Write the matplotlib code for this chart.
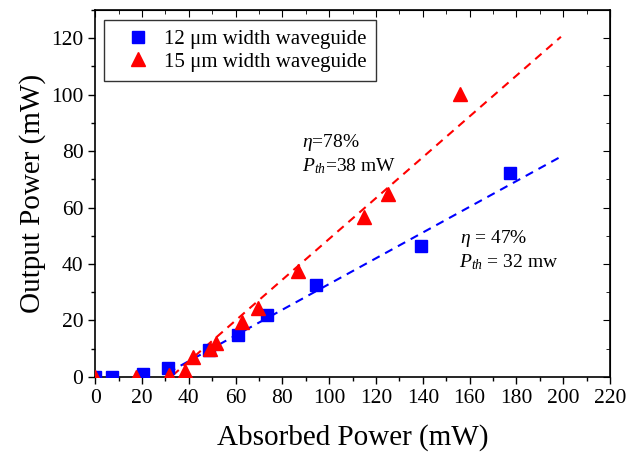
import matplotlib
matplotlib.use("Agg")
import matplotlib.pyplot as plt
from matplotlib.ticker import MultipleLocator

plt.rcParams["font.family"] = ["Liberation Serif", "DejaVu Serif"]
plt.rcParams["mathtext.fontset"] = "custom"
plt.rcParams["mathtext.rm"] = "Liberation Serif"
plt.rcParams["mathtext.it"] = "Liberation Serif:italic"

# measured data, 12 um waveguide (blue squares)
w12_x = [0, 7, 20.5, 31, 48.6, 61, 73.3, 94.3, 139, 177.4]
w12_y = [0, 0, 1, 3, 9.5, 15, 22, 32.4, 46.2, 72.3]
# measured data, 15 um waveguide (red triangles)
w15_x = [0, 17.5, 31.6, 38.4, 41.8, 49, 51.6, 62.7, 69.5, 86.6, 114.7, 125, 156]
w15_y = [0, 0, 0.8, 2, 7, 10, 12, 19.5, 24.5, 37.4, 56.8, 64.9, 100.2]

# linear fits (end points)
fit12_x = [31, 200]
fit12_y = [1.5, 78.5]
fit15_x = [33, 199]
fit15_y = [0.5, 120.5]

fig = plt.figure(figsize=(6.27, 4.53), dpi=100)
ax = fig.add_axes([0.152, 0.168, 0.821, 0.81])

ax.plot(fit12_x, fit12_y, color="#0000ff", lw=1.5, linestyle=(0, (4, 3)), zorder=2)
ax.plot(fit15_x, fit15_y, color="#ff0000", lw=1.5, linestyle=(0, (4, 3)), zorder=2)
ax.plot(w12_x, w12_y, "s", color="#0000ff", ms=8.5, mec="#0000ff", lw=0,
        label="12 \u03bcm width waveguide", zorder=3)
ax.plot(w15_x, w15_y, "^", color="#ff0000", ms=10, mec="#ff0000", lw=0,
        label="15 \u03bcm width waveguide", zorder=3)

ax.set_xlim(0, 220)
ax.set_ylim(0, 130)
ax.xaxis.set_major_locator(MultipleLocator(20))
ax.xaxis.set_minor_locator(MultipleLocator(10))
ax.yaxis.set_major_locator(MultipleLocator(20))
ax.yaxis.set_minor_locator(MultipleLocator(10))
ax.tick_params(which="major", direction="out", length=5, width=1, labelsize=15.5)
ax.tick_params(which="minor", direction="out", length=3, width=1)

# mirrored ticks on top and right, pointing in
top = ax.secondary_xaxis("top")
top.xaxis.set_major_locator(MultipleLocator(20))
top.xaxis.set_minor_locator(MultipleLocator(10))
top.tick_params(which="both", direction="in", labeltop=False)
top.tick_params(which="major", length=5)
top.tick_params(which="minor", length=3)
right = ax.secondary_yaxis("right")
right.yaxis.set_major_locator(MultipleLocator(20))
right.yaxis.set_minor_locator(MultipleLocator(10))
right.tick_params(which="both", direction="in", labelright=False)
right.tick_params(which="major", length=5)
right.tick_params(which="minor", length=3)

for sp in ax.spines.values():
    sp.set_linewidth(1.2)

ax.set_xlabel("Absorbed Power (mW)", fontsize=21, labelpad=12)
ax.set_ylabel("Output Power (mW)", fontsize=21, labelpad=4)

ax.text(88.5, 81.4, r"$\it{\eta}$=78%", fontsize=14)
ax.text(88.2, 72.8, r"$P_{th}$=38 mW", fontsize=14)
ax.text(156, 47.5, r"$\it{\eta}$ = 47%", fontsize=14)
ax.text(155.3, 38.9, r"$P_{th}$ = 32 mw", fontsize=14)

leg = ax.legend(loc="upper left", bbox_to_anchor=(0.017, 0.973), fontsize=15,
                frameon=True, fancybox=False, borderaxespad=0, handletextpad=0.05,
                labelspacing=0.15, borderpad=0.45, handlelength=2.4)
leg.get_frame().set_edgecolor("black")
leg.get_frame().set_linewidth(1)

fig.savefig("out.png", dpi=100)
